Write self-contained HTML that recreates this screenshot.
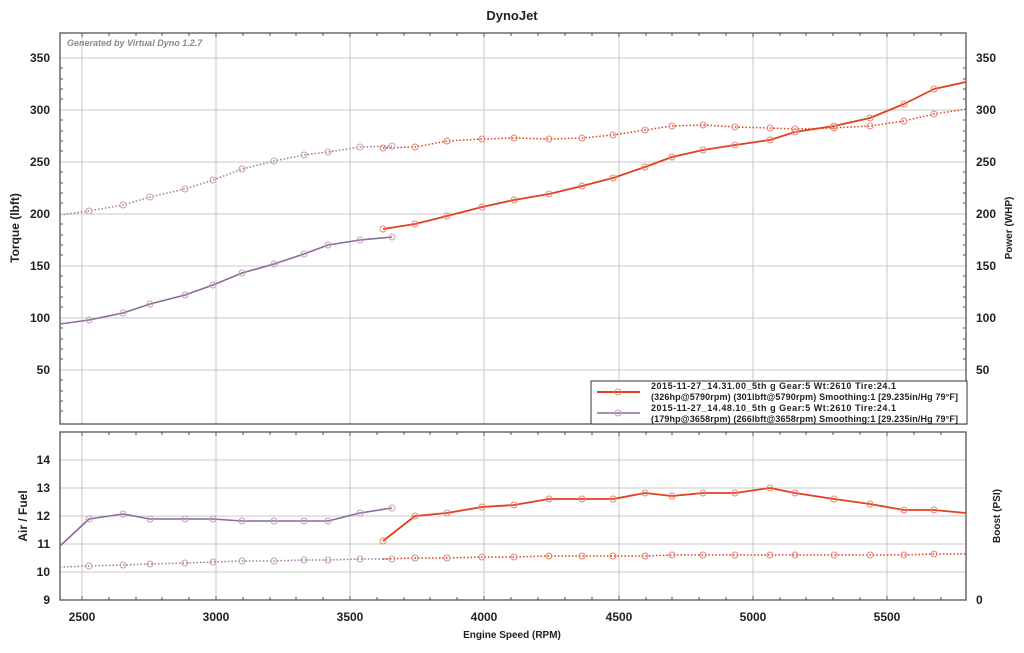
<!DOCTYPE html>
<html><head><style>
body{margin:0;background:#fff;width:1024px;height:648px;overflow:hidden}
text{font-family:"Liberation Sans",Arial,sans-serif}
</style></head><body>
<svg width="1024" height="648" viewBox="0 0 1024 648" xmlns="http://www.w3.org/2000/svg">
<rect width="1024" height="648" fill="#fff"/>
<text x="512" y="20" text-anchor="middle" font-size="13" font-weight="bold" fill="#222">DynoJet</text>
<g stroke="#c8c8c8" stroke-width="1">
<line x1="82" y1="33" x2="82" y2="424"/><line x1="216" y1="33" x2="216" y2="424"/><line x1="350" y1="33" x2="350" y2="424"/><line x1="484" y1="33" x2="484" y2="424"/><line x1="619" y1="33" x2="619" y2="424"/><line x1="753" y1="33" x2="753" y2="424"/><line x1="887" y1="33" x2="887" y2="424"/>
<line x1="82" y1="432" x2="82" y2="600"/><line x1="216" y1="432" x2="216" y2="600"/><line x1="350" y1="432" x2="350" y2="600"/><line x1="484" y1="432" x2="484" y2="600"/><line x1="619" y1="432" x2="619" y2="600"/><line x1="753" y1="432" x2="753" y2="600"/><line x1="887" y1="432" x2="887" y2="600"/>
<line x1="60" y1="58" x2="966" y2="58"/><line x1="60" y1="110" x2="966" y2="110"/><line x1="60" y1="162" x2="966" y2="162"/><line x1="60" y1="214" x2="966" y2="214"/><line x1="60" y1="266" x2="966" y2="266"/><line x1="60" y1="318" x2="966" y2="318"/><line x1="60" y1="370" x2="966" y2="370"/>
<line x1="60" y1="460" x2="966" y2="460"/><line x1="60" y1="488" x2="966" y2="488"/><line x1="60" y1="516" x2="966" y2="516"/><line x1="60" y1="544" x2="966" y2="544"/><line x1="60" y1="572" x2="966" y2="572"/>
</g>
<g stroke="#555" stroke-width="1">
<path d="M82,33v4M109,33v3M136,33v3M162,33v3M189,33v3M216,33v4M243,33v3M270,33v3M296,33v3M323,33v3M350,33v4M377,33v3M404,33v3M430,33v3M457,33v3M484,33v4M511,33v3M538,33v3M565,33v3M592,33v3M619,33v4M646,33v3M672,33v3M699,33v3M726,33v3M753,33v4M780,33v3M806,33v3M833,33v3M860,33v3M887,33v4M914,33v3M941,33v3"/>
<path d="M82,432v4M109,432v3M136,432v3M162,432v3M189,432v3M216,432v4M243,432v3M270,432v3M296,432v3M323,432v3M350,432v4M377,432v3M404,432v3M430,432v3M457,432v3M484,432v4M511,432v3M538,432v3M565,432v3M592,432v3M619,432v4M646,432v3M672,432v3M699,432v3M726,432v3M753,432v4M780,432v3M806,432v3M833,432v3M860,432v3M887,432v4M914,432v3M941,432v3"/>
<path d="M82,600v-4M109,600v-3M136,600v-3M162,600v-3M189,600v-3M216,600v-4M243,600v-3M270,600v-3M296,600v-3M323,600v-3M350,600v-4M377,600v-3M404,600v-3M430,600v-3M457,600v-3M484,600v-4M511,600v-3M538,600v-3M565,600v-3M592,600v-3M619,600v-4M646,600v-3M672,600v-3M699,600v-3M726,600v-3M753,600v-4M780,600v-3M806,600v-3M833,600v-3M860,600v-3M887,600v-4M914,600v-3M941,600v-3"/>
<path d="M60,68h3M60,79h3M60,89h3M60,99h3M60,120h3M60,131h3M60,141h3M60,151h3M60,172h3M60,183h3M60,193h3M60,203h3M60,224h3M60,235h3M60,245h3M60,255h3M60,276h3M60,287h3M60,297h3M60,307h3M60,328h3M60,339h3M60,349h3M60,359h3M60,380h3M60,391h3M60,401h3M60,411h3"/>
<path d="M966,68h-3M966,79h-3M966,89h-3M966,99h-3M966,120h-3M966,131h-3M966,141h-3M966,151h-3M966,172h-3M966,183h-3M966,193h-3M966,203h-3M966,224h-3M966,235h-3M966,245h-3M966,255h-3M966,276h-3M966,287h-3M966,297h-3M966,307h-3M966,328h-3M966,339h-3M966,349h-3M966,359h-3"/>
</g>
<g fill="none" stroke="#555" stroke-width="1.3">
<rect x="60" y="33" width="906" height="391"/>
<rect x="60" y="432" width="906" height="168"/>
</g>
<text x="67" y="46" font-size="9" font-style="italic" font-weight="bold" fill="#888">Generated by Virtual Dyno 1.2.7</text>
<g font-size="12" font-weight="bold" fill="#222" text-anchor="end">
<text x="50" y="62">350</text><text x="50" y="114">300</text><text x="50" y="166">250</text><text x="50" y="218">200</text><text x="50" y="270">150</text><text x="50" y="322">100</text><text x="50" y="374">50</text>
<text x="50" y="464">14</text><text x="50" y="492">13</text><text x="50" y="520">12</text><text x="50" y="548">11</text><text x="50" y="576">10</text><text x="50" y="604">9</text>
</g>
<g font-size="12" font-weight="bold" fill="#222" text-anchor="start">
<text x="976" y="62">350</text><text x="976" y="114">300</text><text x="976" y="166">250</text><text x="976" y="218">200</text><text x="976" y="270">150</text><text x="976" y="322">100</text><text x="976" y="374">50</text><text x="976" y="604">0</text>
</g>
<g font-size="12" font-weight="bold" fill="#222" text-anchor="middle">
<text x="82" y="621">2500</text><text x="216" y="621">3000</text><text x="350" y="621">3500</text><text x="484" y="621">4000</text><text x="619" y="621">4500</text><text x="753" y="621">5000</text><text x="887" y="621">5500</text>
</g>
<text x="512" y="638" text-anchor="middle" font-size="10" font-weight="bold" fill="#222">Engine Speed (RPM)</text>
<text transform="translate(19,228) rotate(-90)" text-anchor="middle" font-size="12" font-weight="bold" fill="#222">Torque (lbft)</text>
<text transform="translate(27,516) rotate(-90)" text-anchor="middle" font-size="12" font-weight="bold" fill="#222">Air / Fuel</text>
<text transform="translate(1012,228) rotate(-90)" text-anchor="middle" font-size="10" font-weight="bold" fill="#222">Power (WHP)</text>
<text transform="translate(1000,516) rotate(-90)" text-anchor="middle" font-size="10" font-weight="bold" fill="#222">Boost (PSI)</text>
<g fill="none" stroke-linejoin="round">
<polyline stroke="#9a7aa8" stroke-width="1.5" stroke-dasharray="1.5,2" points="60,215 89,211 123,205 150,197 185,189 213,180 242,169 274,161 304,155 328,152 360,147 392,146"/>
<polyline stroke="#8a6a9a" stroke-width="1.6" points="60,324 89,320 123,313 150,304 185,295 213,285 242,273 274,264 304,254 328,245 360,240 392,237"/>
<polyline stroke="#e04020" stroke-width="1.5" stroke-dasharray="1.5,2" points="383,148 415,147 447,141 482,139 514,138 549,139 582,138 613,135 645,130 672,126 703,125 735,127 770,128 795,129 834,128 870,126 904,121 934,114 966,109"/>
<polyline stroke="#e04020" stroke-width="1.8" points="383,229 415,224 447,216 482,207 514,200 549,194 582,186 613,178 645,167 672,157 703,150 735,145 770,140 795,132 834,126 870,118 904,104 934,89 966,82"/>
<polyline stroke="#8a6a9a" stroke-width="1.6" points="60,546 89,519 123,514 150,519 185,519 213,519 242,521 274,521 304,521 328,521 360,513 392,508"/>
<polyline stroke="#e04020" stroke-width="1.8" points="383,541 415,516 447,513 482,507 514,505 549,499 582,499 613,499 645,493 672,496 703,493 735,493 770,488 795,493 834,499 870,504 904,510 934,510 966,513"/>
<polyline stroke="#9a7aa8" stroke-width="1.5" stroke-dasharray="1.5,2" points="60,567 89,566 123,565 150,564 185,563 213,562 242,561 274,561 304,560 328,560 360,559 392,559"/>
<polyline stroke="#e04020" stroke-width="1.5" stroke-dasharray="1.5,2" points="383,559 415,558 447,558 482,557 514,557 549,556 582,556 613,556 645,556 672,555 703,555 735,555 770,555 795,555 834,555 870,555 904,555 934,554 966,554"/>
</g>
<g fill="none" stroke="#c8a0b0" stroke-width="1">
<circle cx="89" cy="211" r="3"/><circle cx="123" cy="205" r="3"/><circle cx="150" cy="197" r="3"/><circle cx="185" cy="189" r="3"/><circle cx="213" cy="180" r="3"/><circle cx="242" cy="169" r="3"/><circle cx="274" cy="161" r="3"/><circle cx="304" cy="155" r="3"/><circle cx="328" cy="152" r="3"/><circle cx="360" cy="147" r="3"/><circle cx="392" cy="146" r="3"/>
<circle cx="89" cy="320" r="3"/><circle cx="123" cy="313" r="3"/><circle cx="150" cy="304" r="3"/><circle cx="185" cy="295" r="3"/><circle cx="213" cy="285" r="3"/><circle cx="242" cy="273" r="3"/><circle cx="274" cy="264" r="3"/><circle cx="304" cy="254" r="3"/><circle cx="328" cy="245" r="3"/><circle cx="360" cy="240" r="3"/><circle cx="392" cy="237" r="3"/>
<circle cx="89" cy="519" r="3"/><circle cx="123" cy="514" r="3"/><circle cx="150" cy="519" r="3"/><circle cx="185" cy="519" r="3"/><circle cx="213" cy="519" r="3"/><circle cx="242" cy="521" r="3"/><circle cx="274" cy="521" r="3"/><circle cx="304" cy="521" r="3"/><circle cx="328" cy="521" r="3"/><circle cx="360" cy="513" r="3"/><circle cx="392" cy="508" r="3"/>
<circle cx="89" cy="566" r="3"/><circle cx="123" cy="565" r="3"/><circle cx="150" cy="564" r="3"/><circle cx="185" cy="563" r="3"/><circle cx="213" cy="562" r="3"/><circle cx="242" cy="561" r="3"/><circle cx="274" cy="561" r="3"/><circle cx="304" cy="560" r="3"/><circle cx="328" cy="560" r="3"/><circle cx="360" cy="559" r="3"/><circle cx="392" cy="559" r="3"/>
</g>
<g fill="none" stroke="#e88870" stroke-width="1">
<circle cx="383" cy="148" r="3"/><circle cx="415" cy="147" r="3"/><circle cx="447" cy="141" r="3"/><circle cx="482" cy="139" r="3"/><circle cx="514" cy="138" r="3"/><circle cx="549" cy="139" r="3"/><circle cx="582" cy="138" r="3"/><circle cx="613" cy="135" r="3"/><circle cx="645" cy="130" r="3"/><circle cx="672" cy="126" r="3"/><circle cx="703" cy="125" r="3"/><circle cx="735" cy="127" r="3"/><circle cx="770" cy="128" r="3"/><circle cx="795" cy="129" r="3"/><circle cx="834" cy="128" r="3"/><circle cx="870" cy="126" r="3"/><circle cx="904" cy="121" r="3"/><circle cx="934" cy="114" r="3"/>
<circle cx="383" cy="229" r="3"/><circle cx="415" cy="224" r="3"/><circle cx="447" cy="216" r="3"/><circle cx="482" cy="207" r="3"/><circle cx="514" cy="200" r="3"/><circle cx="549" cy="194" r="3"/><circle cx="582" cy="186" r="3"/><circle cx="613" cy="178" r="3"/><circle cx="645" cy="167" r="3"/><circle cx="672" cy="157" r="3"/><circle cx="703" cy="150" r="3"/><circle cx="735" cy="145" r="3"/><circle cx="770" cy="140" r="3"/><circle cx="795" cy="132" r="3"/><circle cx="834" cy="126" r="3"/><circle cx="870" cy="118" r="3"/><circle cx="904" cy="104" r="3"/><circle cx="934" cy="89" r="3"/>
<circle cx="383" cy="541" r="3"/><circle cx="415" cy="516" r="3"/><circle cx="447" cy="513" r="3"/><circle cx="482" cy="507" r="3"/><circle cx="514" cy="505" r="3"/><circle cx="549" cy="499" r="3"/><circle cx="582" cy="499" r="3"/><circle cx="613" cy="499" r="3"/><circle cx="645" cy="493" r="3"/><circle cx="672" cy="496" r="3"/><circle cx="703" cy="493" r="3"/><circle cx="735" cy="493" r="3"/><circle cx="770" cy="488" r="3"/><circle cx="795" cy="493" r="3"/><circle cx="834" cy="499" r="3"/><circle cx="870" cy="504" r="3"/><circle cx="904" cy="510" r="3"/><circle cx="934" cy="510" r="3"/>
<circle cx="415" cy="558" r="3"/><circle cx="447" cy="558" r="3"/><circle cx="482" cy="557" r="3"/><circle cx="514" cy="557" r="3"/><circle cx="549" cy="556" r="3"/><circle cx="582" cy="556" r="3"/><circle cx="613" cy="556" r="3"/><circle cx="645" cy="556" r="3"/><circle cx="672" cy="555" r="3"/><circle cx="703" cy="555" r="3"/><circle cx="735" cy="555" r="3"/><circle cx="770" cy="555" r="3"/><circle cx="795" cy="555" r="3"/><circle cx="834" cy="555" r="3"/><circle cx="870" cy="555" r="3"/><circle cx="904" cy="555" r="3"/><circle cx="934" cy="554" r="3"/>
</g>
<rect x="591" y="381" width="376" height="43" fill="#fff" stroke="#333" stroke-width="1"/>
<line x1="597" y1="392" x2="640" y2="392" stroke="#e04020" stroke-width="2"/>
<circle cx="618" cy="392" r="3" fill="none" stroke="#e88870"/>
<line x1="597" y1="413" x2="640" y2="413" stroke="#8a6a9a" stroke-width="1.6"/>
<circle cx="618" cy="413" r="3" fill="none" stroke="#c8a0b0"/>
<g font-size="9" font-weight="bold" fill="#222">
<text x="651" y="389" textLength="245">2015-11-27_14.31.00_5th g Gear:5 Wt:2610 Tire:24.1</text>
<text x="651" y="400" textLength="307">(326hp@5790rpm) (301lbft@5790rpm) Smoothing:1 [29.235in/Hg 79°F]</text>
<text x="651" y="411" textLength="245">2015-11-27_14.48.10_5th g Gear:5 Wt:2610 Tire:24.1</text>
<text x="651" y="422" textLength="307">(179hp@3658rpm) (266lbft@3658rpm) Smoothing:1 [29.235in/Hg 79°F]</text>
</g>
</svg>
</body></html>
